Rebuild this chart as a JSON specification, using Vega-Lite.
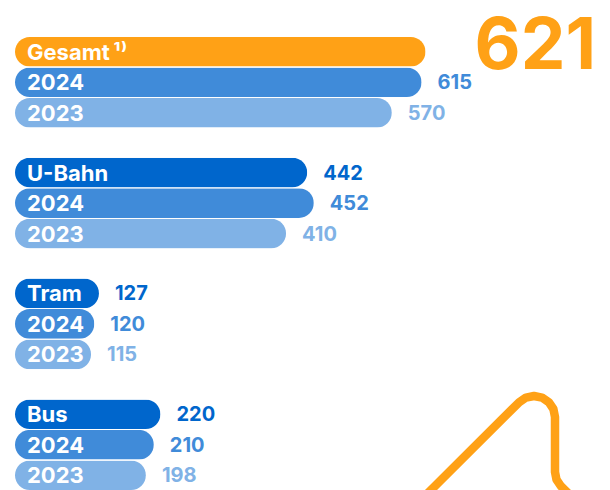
{
  "$schema": "https://vega.github.io/schema/vega-lite/v6.json",
  "autosize": {"type": "none"},
  "width": 595,
  "height": 453,
  "padding": {"left": 15, "top": 37, "right": 0, "bottom": 0},
  "background": "white",
  "config": {"view": {"stroke": null}, "font": "Inter"},
  "datasets": {
    "bars": [
      {"group": "Gesamt", "series": "main", "label": "Gesamt\u2009¹⁾", "value": 621},
      {"group": "Gesamt", "series": "2024", "label": "2024", "value": 615},
      {"group": "Gesamt", "series": "2023", "label": "2023", "value": 570},
      {"group": "U-Bahn", "series": "main", "label": "U-Bahn", "value": 442},
      {"group": "U-Bahn", "series": "2024", "label": "2024", "value": 452},
      {"group": "U-Bahn", "series": "2023", "label": "2023", "value": 410},
      {"group": "Tram", "series": "main", "label": "Tram", "value": 127},
      {"group": "Tram", "series": "2024", "label": "2024", "value": 120},
      {"group": "Tram", "series": "2023", "label": "2023", "value": 115},
      {"group": "Bus", "series": "main", "label": "Bus", "value": 220},
      {"group": "Bus", "series": "2024", "label": "2024", "value": 210},
      {"group": "Bus", "series": "2023", "label": "2023", "value": 198}
    ],
    "deco": [
      {"x": 411, "y": -5},
      {"x": 504.2, "y": 87.8},
      {"x": 511, "y": 92.4},
      {"x": 519, "y": 94},
      {"x": 527, "y": 92.4},
      {"x": 533.8, "y": 87.8},
      {"x": 538.4, "y": 81},
      {"x": 540, "y": 73},
      {"x": 540, "y": 18},
      {"x": 541.5, "y": 10.3},
      {"x": 545.9, "y": 3.9},
      {"x": 557, "y": -7}
    ]
  },
  "layer": [
    {
      "data": {"name": "bars"},
      "encoding": {
        "y": {"field": "group", "type": "nominal", "sort": ["Gesamt", "U-Bahn", "Tram", "Bus"], "scale": {"paddingInner": 0.25, "paddingOuter": 0}, "axis": null},
        "yOffset": {"field": "series", "type": "nominal", "sort": ["main", "2024", "2023"], "scale": {"paddingInner": 0.03, "paddingOuter": 0}},
        "color": {
          "condition": {"test": "datum.group === 'Gesamt' && datum.series === 'main'", "value": "#FFA116"},
          "field": "series", "type": "nominal",
          "scale": {"domain": ["main", "2024", "2023"], "range": ["#0066CC", "#408BD9", "#80B2E6"]},
          "legend": null
        }
      },
      "layer": [
        {
          "mark": {"type": "bar", "cornerRadius": 15},
          "encoding": {
            "x": {"field": "value", "type": "quantitative", "scale": {"domain": [0, 900], "nice": false}, "axis": null}
          }
        },
        {
          "mark": {"type": "text", "align": "left", "baseline": "middle", "dx": 12, "dy": 1, "fontSize": 22, "fontWeight": "bold"},
          "encoding": {
            "x": {"datum": 0, "type": "quantitative"},
            "text": {"field": "label"},
            "color": {"value": "white"}
          }
        },
        {
          "transform": [{"filter": "!(datum.group === 'Gesamt' && datum.series === 'main')"}],
          "mark": {"type": "text", "align": "left", "baseline": "middle", "dx": 16, "dy": 1, "fontSize": 20, "fontWeight": "bold"},
          "encoding": {
            "x": {"field": "value", "type": "quantitative"},
            "text": {"field": "value", "type": "quantitative"}
          }
        },
        {
          "transform": [{"filter": "datum.group === 'Gesamt' && datum.series === 'main'"}],
          "mark": {"type": "text", "align": "left", "baseline": "alphabetic", "dx": 49, "dy": 17, "fontSize": 71, "fontWeight": "bold"},
          "encoding": {
            "x": {"field": "value", "type": "quantitative"},
            "text": {"field": "value", "type": "quantitative"}
          }
        }
      ]
    },
    {
      "data": {"name": "deco"},
      "mark": {"type": "line", "color": "#FFA116", "strokeWidth": 8.5, "strokeCap": "round", "strokeJoin": "round"},
      "encoding": {
        "x": {"field": "x", "type": "quantitative", "scale": {"domain": [0, 595], "nice": false, "zero": false}, "axis": null},
        "y": {"field": "y", "type": "quantitative", "scale": {"domain": [0, 453], "nice": false, "zero": false}, "axis": null},
        "order": {"value": null}
      }
    }
  ],
  "resolve": {"scale": {"x": "independent", "y": "independent"}}
}
